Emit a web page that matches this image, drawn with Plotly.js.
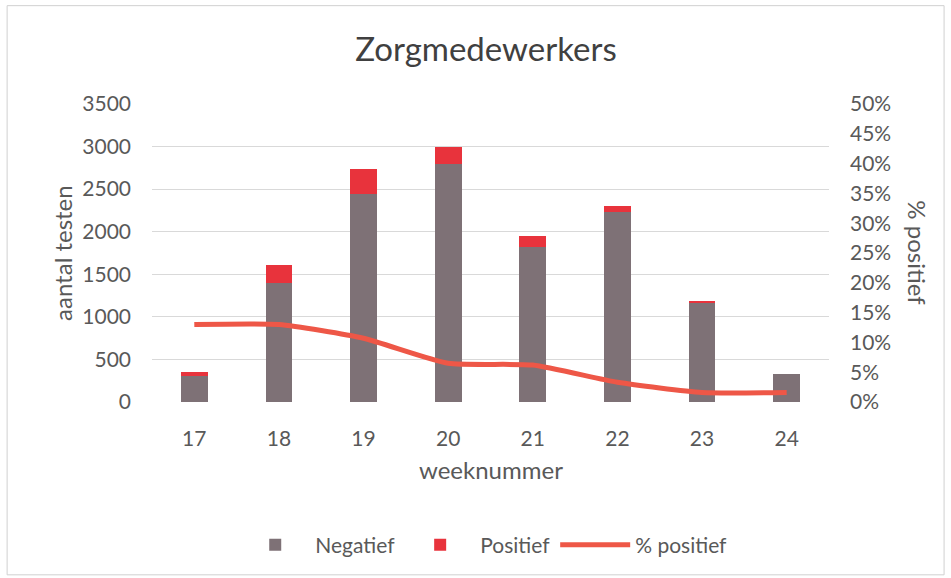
<!DOCTYPE html>
<html><head><meta charset="utf-8">
<script src="https://cdn.plot.ly/plotly-3.0.1.min.js"></script>
<style>html,body{margin:0;padding:0;background:#fff}#c{width:951px;height:578px}</style>
</head><body><div id="c"></div>
<script>
const weeks = ['17','18','19','20','21','22','23','24'];
const negatief = [305, 1400, 2440, 2790, 1820, 2230, 1165, 325];
const positief = [45, 210, 295, 200, 125, 75, 22, 8];
const pctPositief = [0.130, 0.130, 0.107, 0.065, 0.062, 0.033, 0.016, 0.016];
const yTicks = [0, 500, 1000, 1500, 2000, 2500, 3000, 3500];
const y2Ticks = [0, 0.05, 0.10, 0.15, 0.20, 0.25, 0.30, 0.35, 0.40, 0.45, 0.50];

const font = 'Lato, "Open Sans", sans-serif';
const txt = '#595959';

const data = [
  {type:'bar', name:'Negatief', x:weeks, y:negatief, marker:{color:'#7e7176'}},
  {type:'bar', name:'Positief', x:weeks, y:positief, marker:{color:'#e8333c'}},
  {type:'scatter', mode:'lines', name:'% positief', x:weeks, y:pctPositief, yaxis:'y2',
   line:{color:'#ee5747', width:5, shape:'spline', smoothing:0.55}}
];

const layout = {
  width:951, height:578,
  margin:{l:152, r:122, t:104, b:176},
  paper_bgcolor:'#fff', plot_bgcolor:'#fff',
  barmode:'stack', bargap:0.685,
  font:{family:font, color:txt, size:21},
  title:{text:'Zorgmedewerkers', font:{size:33, color:'#404040', family:font}, x:0.511, xanchor:'center', y:0.915, yanchor:'middle'},
  xaxis:{type:'category', tickfont:{size:21, color:txt}, ticklabelstandoff:22, showgrid:false, zeroline:false,
         showline:false, ticks:''},
  yaxis:{range:[0,3500], tickvals:yTicks, ticktext:yTicks.map(String), showgrid:true, gridcolor:'#d9d9d9', gridwidth:1,
         zeroline:false, showline:false, ticks:'', ticklabelstandoff:20, tickfont:{size:21, color:txt}},
  yaxis2:{overlaying:'y', side:'right', range:[0,0.5], tickvals:y2Ticks, ticktext:y2Ticks.map(v=>Math.round(v*100)+'%'),
          showgrid:false, zeroline:false, showline:false, ticks:'', ticklabelstandoff:20, tickfont:{size:21, color:txt}},
  showlegend:true,
  legend:{orientation:'h', x:0.49, xanchor:'center', y:-0.48, yanchor:'middle', font:{size:21, color:txt},
          traceorder:'normal', itemwidth:70},
  annotations:[
    {text:'aantal testen', xref:'paper', yref:'paper', x:-0.133, y:0.5, xanchor:'center', yanchor:'middle', textangle:-90,
     showarrow:false, font:{size:24, color:txt}},
    {text:'% positief', xref:'paper', yref:'paper', x:1.131, y:0.5, xanchor:'center', yanchor:'middle', textangle:90,
     showarrow:false, font:{size:24, color:txt}},
    {text:'weeknummer', xref:'paper', yref:'paper', x:0.5, y:-0.228, xanchor:'center', yanchor:'middle',
     showarrow:false, font:{size:24, color:txt}}
  ],
  shapes:[
    {type:'rect', xref:'paper', yref:'paper', x0:-0.214, x1:1.17, y0:-0.58, y1:1.33, line:{color:'#d0d0d0', width:1}}
  ]
};
Plotly.newPlot('c', data, layout, {displayModeBar:false, staticPlot:true});
</script></body></html>
